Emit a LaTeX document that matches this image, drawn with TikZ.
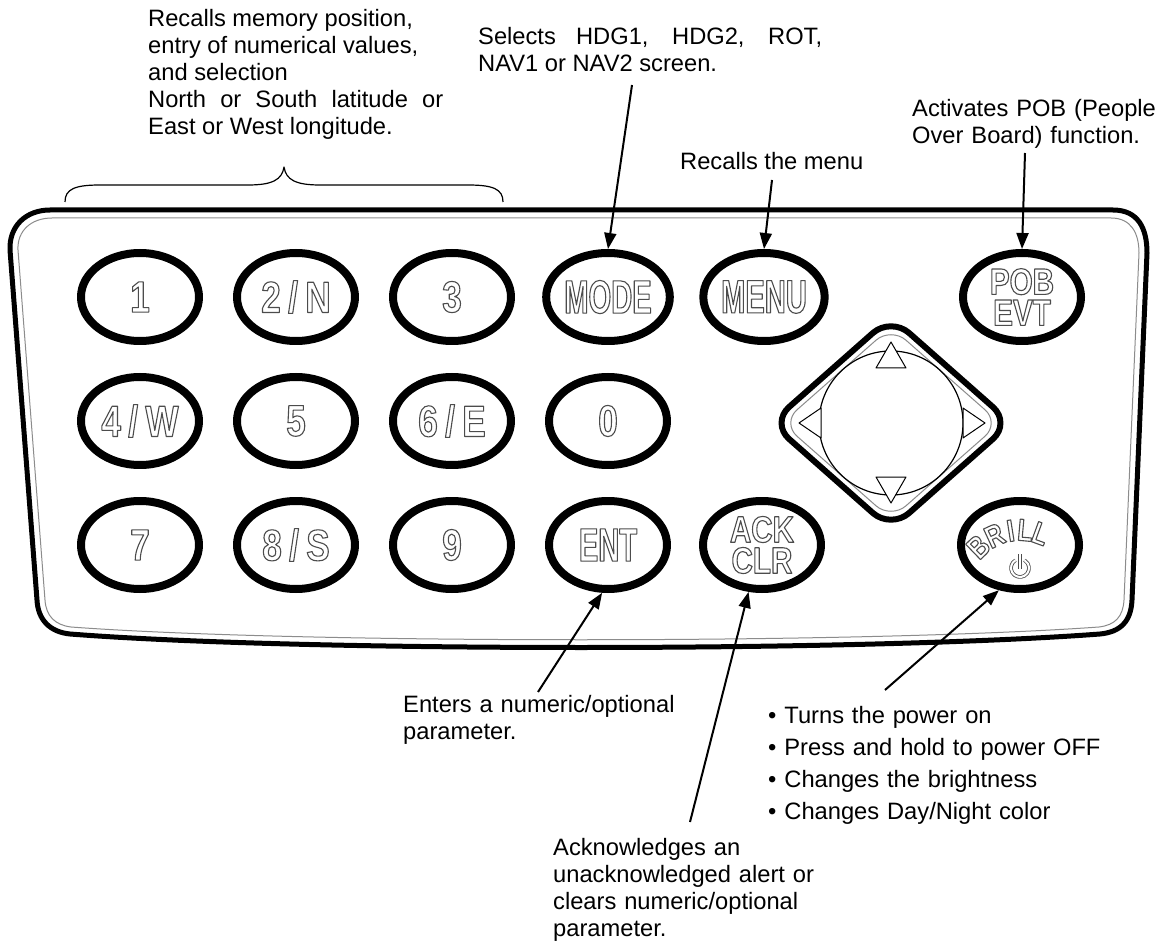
\documentclass[tikz,border=0pt]{standalone}
\usepackage{fontspec}
\setmainfont{Liberation Sans}
\newfontfamily\keyfont[FakeStretch=0.8]{Liberation Sans}
\newfontfamily\keynarrow[FakeStretch=0.62]{Liberation Sans}
\usepackage{tikz}
\usetikzlibrary{shapes.geometric, arrows.meta}
\newcommand{\hollow}[1]{\special{pdf:literal direct 1 Tr 1.1 w 0.3 G}#1\special{pdf:literal direct 0 Tr 0 G}}
\tikzset{
  key/.style={ellipse, draw, line width=8pt, fill=white, minimum width=118pt, minimum height=88pt, inner sep=0pt, font=\keyfont\bfseries\fontsize{44}{44}\selectfont},
  wordkey/.style={key, font=\keynarrow\bfseries\fontsize{47}{47}\selectfont},
  twokey/.style={key, align=center, font=\keyfont\bfseries\fontsize{37}{31}\selectfont},
  note/.style={anchor=base west, inner sep=0pt, font=\fontsize{23.7}{27}\selectfont},
  arrow/.style={line width=2pt, -{Triangle[length=16pt,width=12pt]}},
  padtip/.style={line width=1pt, fill=white},
}

\begin{document}
\begin{tikzpicture}[x=1pt,y=-1pt,line join=round]
\useasboundingbox (0,0) rectangle (1163,941);

% panel outline
\draw [line width=5pt, fill=white] (50,210) -- (1113,210) .. controls (1138,210) and (1147,228) .. (1147,253) -- (1132,600) .. controls (1131,622) and (1120,632) .. (1100,634) .. controls (860,652) and (300,652) .. (70,634) .. controls (50,632) and (38,620) .. (37,600) -- (10,250) .. controls (9,226) and (26,210) .. (50,210) -- cycle;
\draw [line width=1pt, color=black!45] (52,218) -- (1111,218) .. controls (1131,218) and (1139,233) .. (1139,253) -- (1124,600) .. controls (1123,617) and (1115,625) .. (1099,627) .. controls (860,644) and (300,644) .. (71,627) .. controls (55,625) and (46,616) .. (45,600) -- (18,250) .. controls (17,231) and (31,218) .. (52,218) -- cycle;

% brace over the number keys
\draw [line width=1.2pt] (65,202) .. controls (65,189) and (75,185) .. (100,185) -- (248,185) .. controls (272,185) and (282,180) .. (284,167) .. controls (286,180) and (296,185) .. (320,185) -- (468,185) .. controls (493,185) and (503,189) .. (503,202);

% keys
\foreach \name/\x/\y/\lab in {k1/140/297/1, k2/296/297/{2\,/\,N}, k3/452/297/3,
    k4/140/421/{4\,/\,W}, k5/296/421/5, k6/452/421/{6\,/\,E}, k0/608/421/0,
    k7/140/545/7, k8/296/545/{8\,/\,S}, k9/452/545/9}
  \node[key] (\name) at (\x,\y) {\hollow{\lab}};
\node[wordkey] (mode) at (608,297) {\hollow{MODE}};
\node[wordkey] (menu) at (764,297) {\hollow{MENU}};
\node[wordkey] (ent) at (608,545) {\hollow{ENT}};
\node[twokey] (pob) at (1022,297) {\hollow{POB}\\\hollow{EVT}};
\node[twokey] (ack) at (762,545) {\hollow{ACK}\\\hollow{CLR}};
\node[key] (brill) at (1020,545) {};
\foreach \ch/\a in {B/134, R/115, I/99, L/85, L/70}
  \node[inner sep=0pt, rotate=\a-90, font=\keyfont\bfseries\fontsize{31}{31}\selectfont] at ({1020+60*cos(\a)},{590-60*sin(\a)}) {\hollow{\ch}};
\draw [draw=black!70, double=white, double distance=2pt, line width=0.8pt] (1015.5,560.2) arc [start angle=120, end angle=420, radius=9pt];
\draw [draw=black!70, double=white, double distance=2pt, line width=0.8pt] (1020,554) -- (1020,569);

% direction pad
\draw [line width=6pt, rounded corners=24pt] (771,423) -- (891,317) -- (1011,423) -- (891,529) -- cycle;
\draw [line width=1pt, color=black!45, rounded corners=20pt] (782,423) -- (891,327) -- (1000,423) -- (891,519) -- cycle;
\draw [line width=1.2pt] (891,423) circle (72pt);
\draw [padtip] (891,342) -- (876,368) -- (906,368) -- cycle;
\draw [padtip] (799,423) -- (821,408) -- (821,438) -- cycle;
\draw [padtip] (985,423) -- (963,408) -- (963,438) -- cycle;
\draw [padtip] (891,503) -- (876,477) -- (906,477) -- cycle;

% notes
\node[note, text width=295pt, align=justify] (recallnote) at (148,27) {Recalls memory position,\\ entry of numerical values,\\ and selection\\ North or South latitude or East or West longitude.};
\node[note, text width=344pt, align=justify] (selectnote) at (478,45) {Selects HDG1, HDG2, ROT, NAV1 or NAV2 screen.};
\node[note] (menunote) at (680,170) {Recalls the menu};
\node[note, text width=250pt, align=left] (pobnote) at (912,117) {Activates POB (People\\ Over Board) function.};
\node[note, text width=290pt, align=left] (entnote) at (403,712) {Enters a numeric/optional\\ parameter.};
\node[note, text width=290pt, align=left] (acknote) at (553,855) {Acknowledges an\\ unacknowledged alert or\\ clears numeric/optional\\ parameter.};
\node[note, text width=390pt, align=left, font=\fontsize{23.7}{32}\selectfont] (brillnote) at (768,723) {\textbullet\ Turns the power on\\ \textbullet\ Press and hold to power OFF\\ \textbullet\ Changes the brightness\\ \textbullet\ Changes Day/Night color};

% pointers
\coordinate (modetail) at (632,85);
\coordinate (menutail) at (772,180);
\coordinate (pobtail) at (1025,153);
\coordinate (enttail) at (538,692);
\coordinate (acktail) at (690,822);
\coordinate (brilltail) at (885,690);
\draw[arrow] (modetail) -- (mode.north);
\draw[arrow] (menutail) -- (menu.north);
\draw[arrow] (pobtail) -- (pob.north);
\draw[arrow] (enttail) -- (ent.-97);
\draw[arrow] (acktail) -- (ack.-106);
\draw[arrow] (brilltail) -- (brill.-115);
\end{tikzpicture}
\end{document}
